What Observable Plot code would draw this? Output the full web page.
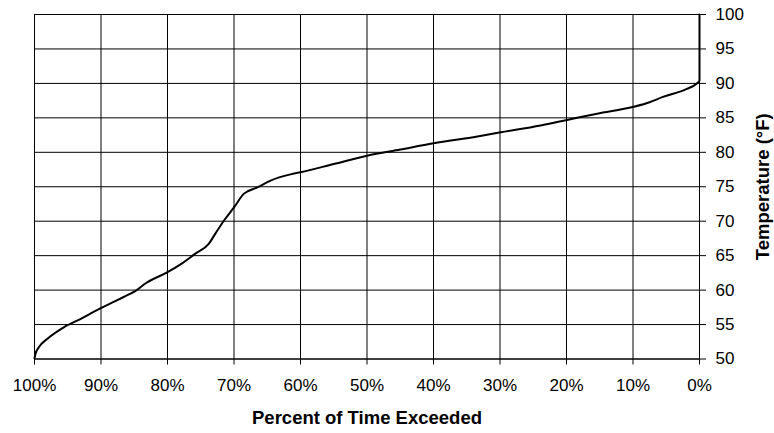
<!DOCTYPE html>
<html>
<head>
<meta charset="utf-8">
<script src="https://cdn.jsdelivr.net/npm/d3@7"></script>
<script src="https://cdn.jsdelivr.net/npm/@observablehq/plot@0.6"></script>
<style>
  html, body { margin: 0; padding: 0; background: #ffffff; }
</style>
</head>
<body>
<div id="chart"></div>
<script>
// Percent of time exceeded (x) and temperature in °F (y)
const percentExceeded = [100, 99.85, 99.35, 98.1, 95.6, 93.1, 90.6, 88.1, 86.6, 84.8, 83.1, 80.0, 78.1, 75.8, 73.8, 72.8, 71.5, 70.0, 68.5, 66.5, 64.5, 61.5, 60, 55, 50, 45, 40, 33.4, 29.9, 23.9, 19.9, 15.4, 9.9, 7.4, 5.6, 1.9, 0.4, 0, 0];
const temperatureF = [50.1, 50.75, 51.7, 52.9, 54.6, 55.8, 57.1, 58.3, 59.0, 59.9, 61.1, 62.6, 63.7, 65.3, 66.7, 68.2, 70.1, 72.0, 74.0, 74.9, 75.9, 76.8, 77.1, 78.3, 79.5, 80.4, 81.3, 82.3, 82.9, 83.9, 84.7, 85.6, 86.6, 87.3, 88.0, 89.2, 90.0, 90.4, 100];

const xTicks = [100, 90, 80, 70, 60, 50, 40, 30, 20, 10, 0];
const yTicks = [50, 55, 60, 65, 70, 75, 80, 85, 90, 95, 100];
const xTitle = "Percent of Time Exceeded";
const yTitle = "Temperature (°F)";

const data = percentExceeded.map((p, i) => ({p, t: temperatureF[i]}));

const chart = Plot.plot({
  width: 774,
  height: 433,
  marginLeft: 34,
  marginRight: 75,
  marginTop: 14,
  marginBottom: 74.5,
  style: {fontFamily: "'Liberation Sans', Arial, sans-serif", fontSize: "17px", background: "#ffffff", color: "#000000"},
  x: {domain: [100, 0]},
  y: {domain: [50, 100]},
  marks: [
    Plot.ruleX(xTicks, {stroke: "#000000", strokeWidth: 1}),
    Plot.ruleY(yTicks, {stroke: "#000000", strokeWidth: 1}),
    Plot.frame({stroke: "#000000", strokeWidth: 1}),
    Plot.axisX({ticks: xTicks, tickSize: 6, tickPadding: 14, tickFormat: d => d + "%", label: null, fontSize: 17}),
    Plot.axisY({anchor: "right", ticks: yTicks, tickSize: 6, tickPadding: 10, label: null, fontSize: 17}),
    Plot.line(data, {x: "p", y: "t", stroke: "#000000", strokeWidth: 2, curve: "monotone-x"}),
    Plot.text([xTitle], {frameAnchor: "bottom", dy: 59, textAnchor: "middle", lineAnchor: "middle", fontWeight: "bold", fontSize: 18.5, fill: "#000000"}),
    Plot.text([yTitle], {frameAnchor: "right", dx: 64, rotate: -90, textAnchor: "middle", lineAnchor: "middle", fontWeight: "bold", fontSize: 18.5, fill: "#000000"})
  ]
});
document.getElementById("chart").appendChild(chart);
</script>
</body>
</html>
